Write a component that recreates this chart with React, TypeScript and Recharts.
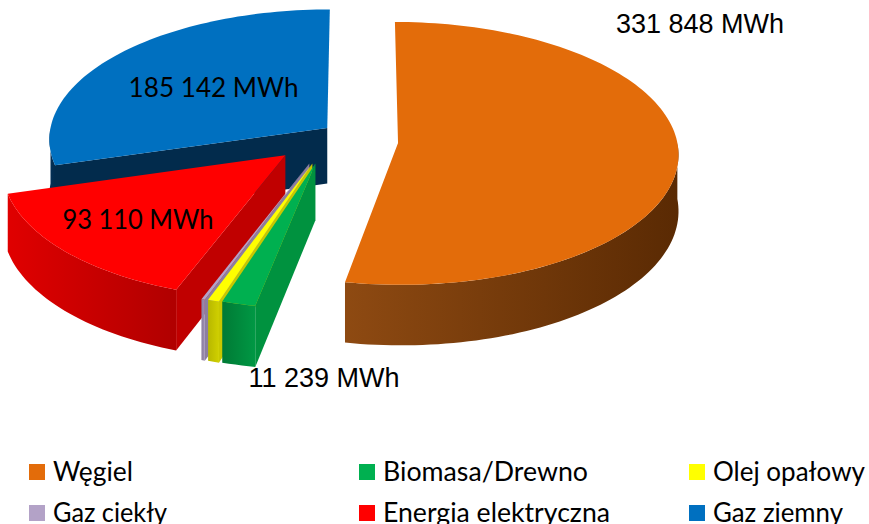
import React from 'react';
import { PieChart, Pie } from 'recharts';

const SOURCES = ['Węgiel', 'Biomasa/Drewno', 'Olej opałowy', 'Gaz ciekły', 'Energia elektryczna', 'Gaz ziemny'];
const MWH = [331848, 11239, 3800, 1200, 93110, 185142];
const SHOW_LABEL = [true, true, false, false, true, true];

const data = SOURCES.map((name, i) => ({ name, value: MWH[i], showLabel: SHOW_LABEL[i] }));
// same slices walked the other way round, so the side walls stack back-to-front
const dataReversed = [...data].reverse();

const STYLE: Record<string, { top: string; side: string; wall: [string, string] }> = {
  'Węgiel': { top: '#E36C0A', side: '#6B3305', wall: ['#8E4A12', '#5A2A03'] },
  'Biomasa/Drewno': { top: '#00B050', side: '#00923F', wall: ['#007A35', '#009844'] },
  'Olej opałowy': { top: '#FFFF00', side: '#C8C800', wall: ['#B8B800', '#D0D000'] },
  'Gaz ciekły': { top: '#B3A2C7', side: '#8C7EA0', wall: ['#8C7EA0', '#9D8FB2'] },
  'Energia elektryczna': { top: '#FF0000', side: '#C00000', wall: ['#E00000', '#B00000'] },
  'Gaz ziemny': { top: '#0070C0', side: '#022B4C', wall: ['#033058', '#022B4C'] },
};

// slice pull-out in the pie plane (x right, y toward the viewer)
const EXPLODE: Record<string, [number, number]> = {
  'Węgiel': [39, 4],
  'Biomasa/Drewno': [-43, 47],
  'Olej opałowy': [-46, 47],
  'Gaz ciekły': [-49, 47],
  'Energia elektryczna': [-73, 30],
  'Gaz ziemny': [-32, -28],
};

const ARIAL = "'Liberation Sans', Arial, sans-serif";
const CALIBRI = "Lato, 'Liberation Sans Narrow', sans-serif";

// inside labels sit on the slice, outside ones where Excel put them
const LABEL_POS: Record<string, any> = {
  'Węgiel': { x: 700, y: 33, font: ARIAL },
  'Biomasa/Drewno': { x: 324, y: 387, font: ARIAL },
  'Energia elektryczna': { frac: 0.68, font: CALIBRI, width: 151 },
  'Gaz ziemny': { frac: 0.53, font: CALIBRI, width: 170 },
};

const LEGEND_WIDTH: Record<string, number> = {
  'Węgiel': 80, 'Biomasa/Drewno': 205, 'Olej opałowy': 152,
  'Gaz ciekły': 114, 'Energia elektryczna': 227, 'Gaz ziemny': 130,
};

const TILT = 0.47;
const PERSP = 0.08;
const DEPTH = 56;

const fmt = (v: number) => String(v).replace(/\B(?=(\d{3})+(?!\d))/g, ' ') + ' MWh';
const rad = (d: number) => (d * Math.PI) / 180;

function geom(props: any) {
  const { cx, cy, outerRadius: r, startAngle, endAngle } = props;
  const name = props.payload?.name ?? props.name;
  const [ox, oy] = EXPLODE[name] ?? [0, 0];
  // angles clockwise from 12 o'clock, whichever way the pie was walked
  let f0 = Math.min(90 - startAngle, 90 - endAngle);
  let f1 = Math.max(90 - startAngle, 90 - endAngle);
  if (f0 < 0) {
    f0 += 360;
    f1 += 360;
  }
  const pt = (phi: number, frac = 1, drop = 0): [number, number] => {
    const X = ox + r * frac * Math.sin(rad(phi));
    const Y = oy - r * frac * Math.cos(rad(phi));
    const k = 1 + (PERSP * Y) / r;
    return [cx + X * k, cy + TILT * Y * k + drop * k];
  };
  const arc = (a: number, b: number, drop = 0) => {
    const n = Math.max(1, Math.ceil(Math.abs(b - a) / 1.5));
    return Array.from({ length: n + 1 }, (_, i) => pt(a + ((b - a) * i) / n, 1, drop));
  };
  return { name, oy, pt, arc, f0, f1 };
}

const toPath = (pts: [number, number][]) =>
  'M' + pts.map((p) => p[0].toFixed(2) + ',' + p[1].toFixed(2)).join('L') + 'Z';

const walls = (back: boolean) => (props: any) => {
  const { name, oy, pt, arc, f0, f1 } = geom(props);
  if ((oy < 0) !== back) return <g />;
  const st = STYLE[name];
  const idx = SOURCES.indexOf(name);
  const c = pt(0, 0);
  const cD = pt(0, 0, DEPTH);
  const parts: any[] = [];
  if (Math.cos(rad(f0 - 90)) < -0.01) {
    parts.push(<path key="s" d={toPath([c, pt(f0), pt(f0, 1, DEPTH), cD])} fill={st.side} />);
  }
  if (Math.cos(rad(f1 + 90)) < -0.01) {
    parts.push(<path key="e" d={toPath([c, pt(f1), pt(f1, 1, DEPTH), cD])} fill={st.side} />);
  }
  const lo = Math.max(f0, 90);
  const hi = Math.min(f1, 270);
  if (hi > lo) {
    parts.push(<path key="o" d={toPath([...arc(lo, hi), ...arc(hi, lo, DEPTH)])} fill={`url(#wall${idx})`} />);
  }
  return (
    <g>
      <defs>
        <linearGradient id={`wall${idx}`} x1="0" y1="0" x2="1" y2="0">
          <stop offset="0" stopColor={st.wall[0]} />
          <stop offset="1" stopColor={st.wall[1]} />
        </linearGradient>
      </defs>
      {parts}
    </g>
  );
};

const BackWalls = walls(true);
const FrontWalls = walls(false);

const Top = (props: any) => {
  const { name, pt, arc, f0, f1 } = geom(props);
  const st = STYLE[name];
  const lab = props.payload?.showLabel ? LABEL_POS[name] : null;
  let label = null;
  if (lab) {
    let x = lab.x;
    let y = lab.y;
    if (lab.frac) {
      const p = pt((f0 + f1) / 2, lab.frac);
      x = p[0];
      y = p[1] + 9;
    }
    label = (
      <text x={x} y={y} textAnchor="middle" fontFamily={lab.font} fontSize={27} fill="#000"
        textLength={lab.width} lengthAdjust={lab.width ? 'spacingAndGlyphs' : undefined}>
        {fmt(props.payload.value)}
      </text>
    );
  }
  return (
    <g>
      <path d={toPath([pt(0, 0), ...arc(f0, f1)])} fill={st.top} />
      {label}
    </g>
  );
};

const COL_X = [29, 359, 689];
const ROW_Y = [472, 513];

function LegendBox() {
  return (
    <svg width={869} height={524} style={{ position: 'absolute', left: 0, top: 0 }}>
      {SOURCES.map((name, i) => {
        const x = COL_X[i % 3];
        const y = ROW_Y[Math.floor(i / 3)];
        return (
          <g key={name}>
            <rect x={x} y={y - 8} width={16} height={16} fill={STYLE[name].top} />
            <text x={x + 24} y={y + 9} fontFamily={CALIBRI} fontSize={27} fill="#000"
              textLength={LEGEND_WIDTH[name]} lengthAdjust="spacingAndGlyphs">
              {name}
            </text>
          </g>
        );
      })}
    </svg>
  );
}

export default function App() {
  const common = {
    dataKey: 'value',
    nameKey: 'name',
    cx: 359,
    cy: 141,
    outerRadius: 279,
    stroke: 'none',
    isAnimationActive: false,
  };
  return (
    <div style={{ position: 'absolute', left: 0, top: 0, width: 869, height: 524, background: '#fff' }}>
      <PieChart width={869} height={524} margin={{ top: 0, right: 0, bottom: 0, left: 0 }}>
        <Pie {...common} data={data} startAngle={90} endAngle={-270} shape={BackWalls} />
        <Pie {...common} data={dataReversed} startAngle={90} endAngle={450} shape={FrontWalls} />
        <Pie {...common} data={data} startAngle={90} endAngle={-270} shape={Top} />
      </PieChart>
      <LegendBox />
    </div>
  );
}
